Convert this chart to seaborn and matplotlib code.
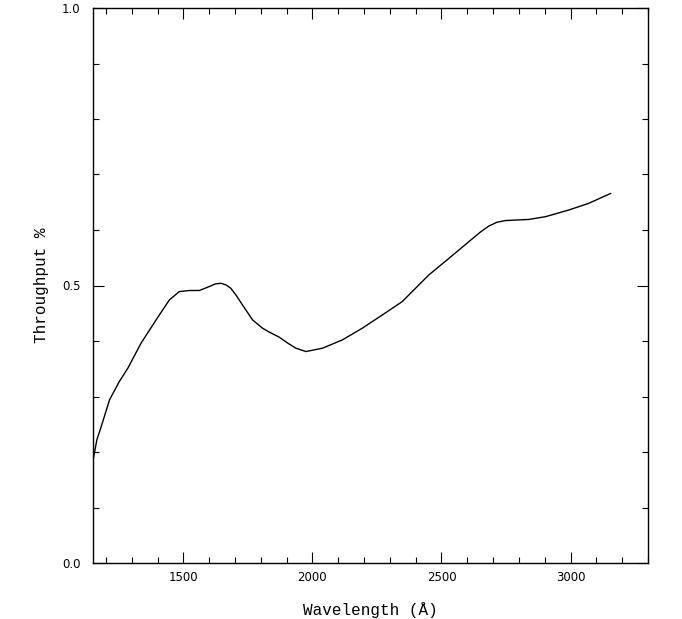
import numpy as np
import pandas as pd
import matplotlib
matplotlib.use("Agg")
import matplotlib.pyplot as plt
import seaborn as sns
from matplotlib.ticker import MultipleLocator, FormatStrFormatter

wavelength = [1149, 1165, 1182, 1214, 1252, 1285, 1336, 1407, 1446, 1484, 1523,
              1562, 1600, 1625, 1646, 1665, 1684, 1705, 1729, 1768, 1807, 1833,
              1871, 1905, 1936, 1975, 2039, 2116, 2193, 2271, 2348, 2393, 2451,
              2529, 2606, 2650, 2683, 2715, 2748, 2790, 2838, 2903, 2993, 3070,
              3156]
throughput = [0.182, 0.222, 0.246, 0.294, 0.327, 0.351, 0.396, 0.447, 0.474,
              0.489, 0.491, 0.491, 0.498, 0.503, 0.504, 0.501, 0.495, 0.482,
              0.465, 0.438, 0.423, 0.416, 0.407, 0.396, 0.387, 0.381, 0.387,
              0.402, 0.423, 0.447, 0.471, 0.492, 0.519, 0.549, 0.579, 0.596,
              0.607, 0.614, 0.617, 0.618, 0.619, 0.624, 0.636, 0.648, 0.666]

df = pd.DataFrame({"wavelength": wavelength, "throughput": throughput})

sns.set_theme(style="ticks")
plt.rcParams["font.family"] = ["DejaVu Sans"]
plt.rcParams["text.color"] = "black"
plt.rcParams["axes.labelcolor"] = "black"
plt.rcParams["xtick.color"] = "black"
plt.rcParams["ytick.color"] = "black"

fig = plt.figure(figsize=(6.82, 6.19), dpi=100)
ax = fig.add_axes([93 / 682, 56 / 619, 555 / 682, 555 / 619])

sns.lineplot(data=df, x="wavelength", y="throughput", ax=ax,
             color="black", linewidth=1.0, estimator=None, sort=False)

ax.set_xlim(1150, 3300)
ax.set_ylim(0, 1.0)
ax.xaxis.set_major_locator(MultipleLocator(500))
ax.xaxis.set_minor_locator(MultipleLocator(100))
ax.yaxis.set_major_locator(MultipleLocator(0.5))
ax.yaxis.set_minor_locator(MultipleLocator(0.1))
ax.yaxis.set_major_formatter(FormatStrFormatter("%.1f"))

ax.tick_params(which="both", direction="in", top=True, right=True,
               color="black", labelcolor="black", labelsize=8.5, width=0.8)
ax.tick_params(which="major", length=8)
ax.tick_params(which="minor", length=4)
ax.tick_params(axis="x", which="major", pad=6)
ax.tick_params(axis="y", which="major", pad=9)

for s in ax.spines.values():
    s.set_color("black")
    s.set_linewidth(1.0)

ax.set_xlabel("Wavelength (Å)", fontfamily="Liberation Mono", fontsize=11.5,
              labelpad=13, color="black")
ax.set_ylabel("Throughput %", fontfamily="Liberation Mono", fontsize=11.5,
              labelpad=9, color="black")

fig.savefig("out.png", dpi=100, facecolor="white")
